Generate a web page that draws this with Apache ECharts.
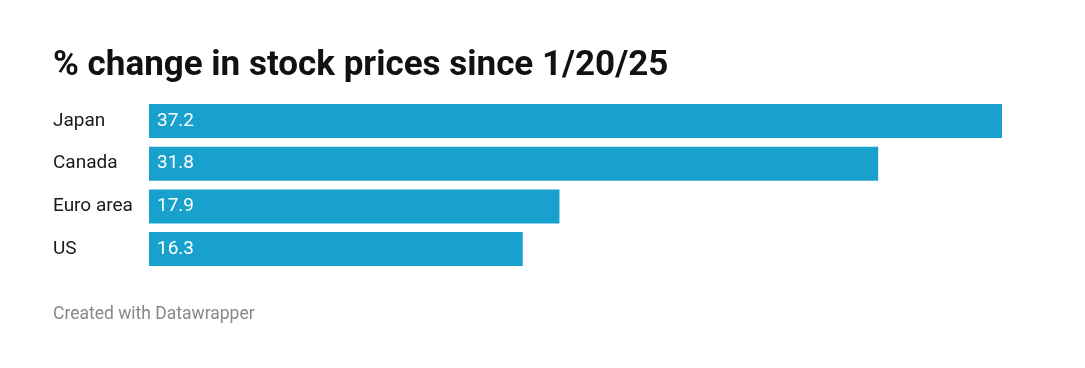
<!DOCTYPE html>
<html>
<head>
<meta charset="utf-8">
<script src="https://cdn.jsdelivr.net/npm/echarts@6/dist/echarts.min.js"></script>
<style>
html,body{margin:0;padding:0;background:#fff;}
#chart{width:1085px;height:368px;}
</style>
</head>
<body>
<div id="chart"></div>
<script>
const categories = ['Japan', 'Canada', 'Euro area', 'US'];
const values = [37.2, 31.8, 17.9, 16.3];

const chart = echarts.init(document.getElementById('chart'));
chart.setOption({
  animation: false,
  backgroundColor: '#ffffff',
  title: [{
    text: '% change in stock prices since 1/20/25',
    left: 48, top: 44, padding: 5,
    textStyle: {fontFamily: 'Roboto', fontWeight: 'bold', fontSize: 35, color: '#111111'}
  }, {
    text: 'Created with Datawrapper',
    left: 48, top: 301, padding: 5,
    textStyle: {fontFamily: 'Roboto', fontWeight: 'normal', fontSize: 17.5, color: '#888888'}
  }],
  grid: {left: 149, right: 1085 - 1002, top: 99.7, height: 170.7, containLabel: false},
  xAxis: {
    type: 'value', min: 0, max: 37.2, show: false
  },
  yAxis: {
    type: 'category', data: categories, inverse: true,
    axisLine: {show: false}, axisTick: {show: false},
    axisLabel: {
      align: 'left', margin: 96, fontFamily: 'Roboto', fontSize: 19, color: '#1a1a1a'
    }
  },
  series: [{
    type: 'bar', data: values, barWidth: 34,
    itemStyle: {color: '#18a1cd'},
    label: {
      show: true, position: 'insideLeft', distance: 8,
      fontFamily: 'Roboto', fontSize: 19, color: '#ffffff',
      formatter: p => p.value.toFixed(1)
    }
  }]
});
</script>
</body>
</html>
